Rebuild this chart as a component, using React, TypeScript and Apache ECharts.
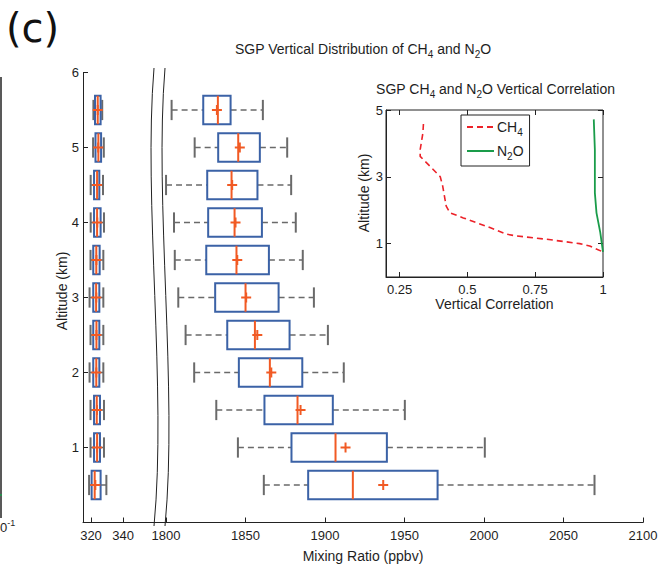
import React, { useEffect, useRef } from 'react';
import * as echarts from 'echarts';

// ---------------- data ----------------
const altitudes = [5.5, 5.0, 4.5, 4.0, 3.5, 3.0, 2.5, 2.0, 1.5, 1.0, 0.5];

// CH4 mixing ratio (ppbv)
const ch4WhiskerLow = [1803.5, 1818, 1800, 1805, 1805.5, 1807.7, 1812.3, 1817.7, 1831.6, 1845.2, 1861.5];
const ch4Q1 = [1823.4, 1832.8, 1825.9, 1826.5, 1825.3, 1830.9, 1838.5, 1845.8, 1861.9, 1878.9, 1889.4];
const ch4Median = [1832.6, 1845.4, 1841.2, 1843.1, 1844.3, 1850, 1855.9, 1865.3, 1882.7, 1906.6, 1917.5];
const ch4Q3 = [1840.6, 1859, 1857.5, 1860.3, 1864.7, 1870.8, 1877.7, 1885.7, 1904.9, 1938.9, 1970.8];
const ch4WhiskerHigh = [1860.9, 1876.2, 1878.7, 1881.6, 1886, 1893, 1901.8, 1911.8, 1950.2, 2000.5, 2069.5];
const ch4Mean = [1832, 1846.4, 1841.6, 1843.7, 1844.8, 1850.4, 1857.4, 1866.2, 1884.6, 1912.9, 1936.6];

// N2O mixing ratio (ppbv)
const n2oWhiskerLow = [321.5, 321.3, 319.8, 319.8, 319.7, 319.1, 319.7, 319.1, 319.7, 319.7, 318.8];
const n2oQ1 = [322.5, 322.8, 321.9, 321.9, 321.4, 321.4, 321.4, 321.4, 321.9, 321.9, 320.4];
const n2oMedian = [324.2, 324.6, 323.8, 323.8, 323.3, 323.2, 323.4, 323.3, 323.6, 323.8, 322.3];
const n2oQ3 = [326, 326.3, 325.2, 326, 325.4, 325.2, 325.2, 325.2, 325.6, 325.6, 326];
const n2oWhiskerHigh = [327, 328, 327.5, 328.1, 327.7, 327.7, 327.7, 327.7, 328.1, 328.1, 329.6];
const n2oMean = [324.2, 324.5, 323.8, 323.9, 323.4, 323.3, 323.4, 323.3, 323.7, 323.8, 322.7];

// tick labels
const n2oTicks = [320, 340];
const ch4Ticks = [1800, 1850, 1900, 1950, 2000, 2050, 2100];
const altTicks = [1, 2, 3, 4, 5, 6];
const corrTicks = [0.25, 0.5, 0.75, 1];
const corrAltTicks = [1, 3, 5];

// vertical correlation profiles
const ch4Corr = [0.338, 0.336, 0.326, 0.326, 0.363, 0.4, 0.409, 0.422, 0.436, 0.485, 0.583, 0.645, 0.681, 0.792, 0.914, 0.951, 1.0];
const ch4CorrAlt = [4.58, 4.31, 3.81, 3.61, 3.31, 3.0, 2.72, 2.12, 1.92, 1.77, 1.48, 1.28, 1.23, 1.13, 1.0, 0.93, 0.75];
const n2oCorr = [0.966, 0.97, 0.97, 0.976, 0.99, 1.0];
const n2oCorrAlt = [4.72, 3.81, 2.52, 1.92, 1.33, 0.75];

// ---------------- styles ----------------
const FONT = '"Liberation Sans", Arial, Helvetica, sans-serif';
const TXT = '#1e1e1e';
const BLUE = '#3b62a6';
const ORANGE = '#f15a24';
const GRAY = '#6a6a6a';
const RED = '#ec2229';
const GREEN = '#1a9c4a';
const BOX_H = 0.38;
const CAP_H = 0.27;

const rowsOf = (lo: number[], q1: number[], med: number[], q3: number[], hi: number[], mean: number[]) =>
  altitudes.map((a, i) => [a, lo[i], q1[i], med[i], q3[i], hi[i], mean[i]]);

const renderBox = (params: any, api: any) => {
  const alt = api.value(0);
  const pLo = api.coord([api.value(1), alt]);
  const pQ1 = api.coord([api.value(2), alt]);
  const pMed = api.coord([api.value(3), alt]);
  const pQ3 = api.coord([api.value(4), alt]);
  const pHi = api.coord([api.value(5), alt]);
  const pMean = api.coord([api.value(6), alt]);
  const cy = pLo[1];
  const hb = api.size([0, BOX_H])[1] / 2;
  const hc = api.size([0, CAP_H])[1] / 2;
  const pm = 5;
  const dash = { stroke: GRAY, lineWidth: 1.5, lineDash: [6, 4] };
  const cap = { stroke: GRAY, lineWidth: 2 };
  return {
    type: 'group',
    children: [
      { type: 'line', shape: { x1: pLo[0], y1: cy, x2: pQ1[0], y2: cy }, style: dash },
      { type: 'line', shape: { x1: pQ3[0], y1: cy, x2: pHi[0], y2: cy }, style: dash },
      { type: 'line', shape: { x1: pLo[0], y1: cy - hc, x2: pLo[0], y2: cy + hc }, style: cap },
      { type: 'line', shape: { x1: pHi[0], y1: cy - hc, x2: pHi[0], y2: cy + hc }, style: cap },
      {
        type: 'rect',
        shape: { x: pQ1[0], y: cy - hb, width: pQ3[0] - pQ1[0], height: 2 * hb },
        style: { fill: 'none', stroke: BLUE, lineWidth: 2 },
      },
      { type: 'line', shape: { x1: pMed[0], y1: cy - hb, x2: pMed[0], y2: cy + hb }, style: { stroke: ORANGE, lineWidth: 2 } },
      { type: 'line', shape: { x1: pMean[0] - pm, y1: cy, x2: pMean[0] + pm, y2: cy }, style: { stroke: ORANGE, lineWidth: 2 } },
      { type: 'line', shape: { x1: pMean[0], y1: cy - pm, x2: pMean[0], y2: cy + pm }, style: { stroke: ORANGE, lineWidth: 2 } },
    ],
  };
};

const plain = (v: number) => String(v);
const tickLabel = (vals: number[], margin: number, show = true) => ({
  show,
  customValues: vals,
  margin,
  fontSize: 13,
  fontFamily: FONT,
  color: TXT,
  formatter: plain,
});
const tick = (vals: number[]) => ({
  show: true,
  inside: true,
  length: 5,
  customValues: vals,
  lineStyle: { color: '#222', width: 1 },
});
const axLine = (show = true) => ({ show, onZero: false, lineStyle: { color: '#222', width: 1 } });

const subRich = { sub: { fontSize: 10, fontFamily: FONT, fill: TXT, color: TXT, padding: [10, 0, 0, 0] } };

const textEl = (text: string, x: number, y: number, size: number, extra: any = {}) => ({
  type: 'text',
  x,
  y,
  silent: true,
  ...extra,
  style: {
    text,
    fontSize: size,
    fontFamily: FONT,
    fill: TXT,
    align: 'center',
    verticalAlign: 'middle',
    rich: subRich,
    ...(extra.style || {}),
  },
});

export default function App() {
  const ref = useRef<HTMLDivElement>(null);
  useEffect(() => {
    if (!ref.current) return;
    const chart = echarts.init(ref.current, null, { renderer: 'svg' });
    const option: any = {
      animation: false,
      backgroundColor: '#fff',
      grid: [
        { left: 83, top: 72.5, width: 77, height: 450 },
        { left: 160, top: 72.5, width: 483, height: 450 },
        { left: 386, top: 110, width: 217, height: 167, show: true, backgroundColor: '#fff', borderColor: '#222', borderWidth: 1, z: 5 },
      ],
      xAxis: [
        { gridIndex: 0, type: 'value', min: 315, max: 363.1, axisLine: axLine(), axisTick: tick(n2oTicks), axisLabel: tickLabel(n2oTicks, 6), splitLine: { show: false } },
        { gridIndex: 1, type: 'value', min: 1796.2, max: 2100, axisLine: axLine(), axisTick: tick(ch4Ticks), axisLabel: tickLabel(ch4Ticks, 6), splitLine: { show: false } },
        {
          gridIndex: 2, type: 'value', min: 0.2, max: 1, z: 6,
          axisLine: axLine(), axisTick: tick(corrTicks), axisLabel: tickLabel(corrTicks, 6), splitLine: { show: false },
          name: 'Vertical Correlation', nameLocation: 'middle', nameGap: 20,
          nameTextStyle: { fontSize: 14, fontFamily: FONT, color: TXT },
        },
        { gridIndex: 2, type: 'value', position: 'top', min: 0.2, max: 1, z: 6, axisLine: axLine(false), axisTick: tick(corrTicks), axisLabel: { show: false }, splitLine: { show: false } },
      ],
      yAxis: [
        { gridIndex: 0, type: 'value', min: 0, max: 6, axisLine: axLine(), axisTick: tick(altTicks), axisLabel: tickLabel(altTicks, 4), splitLine: { show: false } },
        { gridIndex: 1, type: 'value', min: 0, max: 6, show: false },
        { gridIndex: 2, type: 'value', min: 0, max: 5, z: 6, axisLine: axLine(), axisTick: tick(corrAltTicks), axisLabel: tickLabel(corrAltTicks, 3), splitLine: { show: false } },
        { gridIndex: 2, type: 'value', position: 'right', min: 0, max: 5, z: 6, axisLine: axLine(false), axisTick: tick(corrAltTicks), axisLabel: { show: false }, splitLine: { show: false } },
      ],
      legend: {
        data: ['CH4', 'N2O'],
        orient: 'vertical',
        left: 461,
        top: 115,
        z: 10,
        backgroundColor: '#fff',
        borderColor: '#222',
        borderWidth: 1,
        borderRadius: 0,
        padding: [5, 6, 5, 5],
        itemWidth: 27,
        itemHeight: 12,
        itemGap: 7,
        selectedMode: false,
        itemStyle: { color: 'rgba(0,0,0,0)', borderColor: 'rgba(0,0,0,0)', borderWidth: 0 },
        formatter: (n: string) => (n === 'CH4' ? 'CH{sub|4}' : 'N{sub|2}O'),
        textStyle: { fontSize: 14, fontFamily: FONT, color: TXT, padding: [0, 0, 0, -2], rich: { sub: { fontSize: 10, fontFamily: FONT, color: TXT, padding: [10, 0, 0, 0] } } },
      },
      series: [
        {
          type: 'custom',
          name: 'N2O box',
          xAxisIndex: 0,
          yAxisIndex: 0,
          renderItem: renderBox,
          encode: { x: [1, 2, 3, 4, 5, 6], y: 0 },
          data: rowsOf(n2oWhiskerLow, n2oQ1, n2oMedian, n2oQ3, n2oWhiskerHigh, n2oMean),
        },
        {
          type: 'custom',
          name: 'CH4 box',
          xAxisIndex: 1,
          yAxisIndex: 1,
          renderItem: renderBox,
          encode: { x: [1, 2, 3, 4, 5, 6], y: 0 },
          data: rowsOf(ch4WhiskerLow, ch4Q1, ch4Median, ch4Q3, ch4WhiskerHigh, ch4Mean),
        },
        {
          type: 'line',
          name: 'CH4',
          xAxisIndex: 2,
          yAxisIndex: 2,
          z: 7,
          symbol: 'none',
          color: RED,
          lineStyle: { color: RED, width: 1.6, type: [6, 4] },
          data: ch4Corr.map((c, i) => [c, ch4CorrAlt[i]]),
        },
        {
          type: 'line',
          name: 'N2O',
          xAxisIndex: 2,
          yAxisIndex: 2,
          z: 7,
          symbol: 'none',
          color: GREEN,
          lineStyle: { color: GREEN, width: 1.8 },
          data: n2oCorr.map((c, i) => [c, n2oCorrAlt[i]]),
        },
      ],
      graphic: [
        { type: 'text', x: 6, y: 8, silent: true, style: { text: '(c)', fontSize: 40, fontFamily: '"DejaVu Sans", sans-serif', fill: '#111', align: 'left', verticalAlign: 'top' } },
        textEl('SGP Vertical Distribution of CH{sub|4} and N{sub|2}O', 363, 49, 14),
        textEl('SGP CH{sub|4} and N{sub|2}O Vertical Correlation', 495.5, 89, 14, { z: 20 }),
        textEl('Mixing Ratio (ppbv)', 363, 556, 14),
        textEl('Altitude (km)', 62, 291, 14, { rotation: Math.PI / 2 }),
        textEl('Altitude (km)', 364, 193, 14, { rotation: Math.PI / 2, z: 20 }),
        { type: 'bezierCurve', silent: true, shape: { x1: 154, y1: 68, cpx1: 143, cpy1: 200, cpx2: 167, cpy2: 390, x2: 154, y2: 526 }, style: { stroke: '#222', lineWidth: 1, fill: 'none' } },
        { type: 'bezierCurve', silent: true, shape: { x1: 165, y1: 68, cpx1: 154, cpy1: 200, cpx2: 178, cpy2: 390, x2: 165, y2: 526 }, style: { stroke: '#222', lineWidth: 1, fill: 'none' } },
        { type: 'line', silent: true, shape: { x1: 1, y1: 77, x2: 1, y2: 518 }, style: { stroke: '#222', lineWidth: 1.5 } },
        { type: 'line', silent: true, shape: { x1: 0, y1: 495, x2: 2, y2: 495 }, style: { stroke: GREEN, lineWidth: 1.5 } },
        {
          type: 'text', x: 0, y: 527, silent: true,
          style: { text: '0{sup|-1}', fontSize: 13, fontFamily: FONT, fill: TXT, align: 'left', verticalAlign: 'middle', rich: { sup: { fontSize: 9, fontFamily: FONT, fill: TXT, padding: [0, 0, 9, 0] } } },
        },
      ],
    };
    chart.setOption(option);
    return () => chart.dispose();
  }, []);
  return <div ref={ref} style={{ position: 'absolute', left: 0, top: 0, width: 662, height: 569 }} />;
}
